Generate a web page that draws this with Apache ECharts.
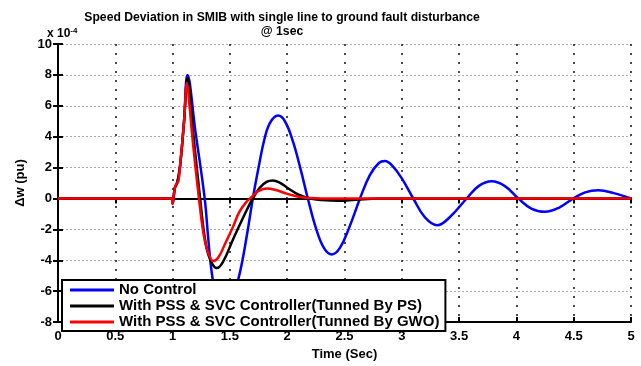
<!DOCTYPE html>
<html>
<head>
<meta charset="utf-8">
<script src="https://cdn.jsdelivr.net/npm/echarts@6/dist/echarts.min.js"></script>
<style>
  html, body { margin: 0; padding: 0; background: #fff; }
  #main { width: 641px; height: 366px; }
</style>
</head>
<body>
<div id="main"></div>
<script>
// values in units of 1e-4 pu
var seriesNames = ['No Control', 'With PSS & SVC Controller(Tunned By PS)', 'With PSS & SVC Controller(Tunned By GWO)'];
var xTicks = [0, 0.5, 1, 1.5, 2, 2.5, 3, 3.5, 4, 4.5, 5];
var yTicks = [-8, -6, -4, -2, 0, 2, 4, 6, 8, 10];

var tNoCtrl = [0, 0.99, 1.0, 1.02, 1.04, 1.065, 1.1, 1.13, 1.2, 1.28, 1.31, 1.34, 1.38, 1.43, 1.48, 1.53, 1.59, 1.65, 1.7,
  1.75, 1.8, 1.85, 1.92, 1.98, 2.05, 2.12, 2.18, 2.25, 2.32, 2.39, 2.46, 2.54, 2.635, 2.72, 2.8, 2.853, 2.92, 3.0, 3.1,
  3.2, 3.31, 3.42, 3.566, 3.67, 3.784, 3.9, 4.017, 4.13, 4.25, 4.37, 4.497, 4.6, 4.715, 4.85, 5.0];
var vNoCtrl = [0, 0, -0.3, 0.7, 1.0, 2.1, 5.0, 8.0, 4.3, 0, -2.5, -4.7, -6.3, -7.0, -7.0, -6.3, -4.7, -2.3, 0,
  2.0, 3.8, 4.9, 5.37, 5.0, 3.7, 1.8, 0, -1.9, -3.2, -3.62, -3.2, -1.9, 0, 1.5, 2.3, 2.42, 2.1, 1.3, 0,
  -1.2, -1.73, -1.2, 0, 0.8, 1.11, 0.8, 0, -0.65, -0.86, -0.6, 0, 0.4, 0.53, 0.35, 0];

var tPS = [0, 0.99, 1.0, 1.02, 1.04, 1.065, 1.1, 1.13, 1.18, 1.24, 1.28, 1.32, 1.385, 1.44, 1.53, 1.646, 1.7, 1.76,
  1.82, 1.873, 1.93, 2.0, 2.1, 2.2, 2.3, 2.45, 2.6, 2.8, 5.0];
var vPS = [0, 0, -0.3, 0.7, 1.0, 2.1, 5.0, 7.8, 4.2, 0, -2.5, -3.8, -4.5, -4.1, -2.6, -0.76, 0, 0.7,
  1.08, 1.17, 1.05, 0.7, 0.25, 0, -0.1, -0.15, -0.08, 0, 0];

var tGWO = [0, 0.99, 1.0, 1.01, 1.02, 1.035, 1.05, 1.065, 1.1, 1.125, 1.14, 1.18, 1.23, 1.27, 1.31, 1.355, 1.4, 1.46,
  1.53, 1.58, 1.64, 1.69, 1.74, 1.82, 1.9, 2.0, 2.1, 2.2, 2.3, 5.0];
var vGWO = [0, 0, -0.35, 0.2, 0.7, 1.0, 1.1, 2.1, 5.0, 7.5, 6.6, 3.4, 0, -2.3, -3.5, -4.05, -3.8, -2.9,
  -1.78, -0.9, -0.25, 0.1, 0.45, 0.65, 0.55, 0.3, 0.12, 0.03, 0, 0];

function zip(t, v) {
  var out = [];
  for (var i = 0; i < t.length; i++) out.push([t[i], v[i]]);
  return out;
}

var myChart = echarts.init(document.getElementById('main'));
var lblFont = { color: '#000', fontWeight: 'bold', fontSize: 13, fontFamily: 'Liberation Sans' };
var titleFont = 'bold 12.2px "Liberation Sans"';

var option = {
  animation: false,
  backgroundColor: '#fff',
  grid: { left: 58, right: 10, top: 44, bottom: 33, show: false },
  graphic: [
    { type: 'text', x: 282, y: 18, style: { text: 'Speed Deviation in SMIB with single line to ground fault disturbance', align: 'center', verticalAlign: 'middle', fill: '#000', font: titleFont } },
    { type: 'text', x: 282, y: 32, style: { text: '@ 1sec', align: 'center', verticalAlign: 'middle', fill: '#000', font: titleFont } },
    { type: 'text', x: 47, y: 27, style: { text: '{a|x 10}{b|-4}', rich: { a: { fontSize: 12, fontWeight: 'bold', fontFamily: 'Liberation Sans', fill: '#000' }, b: { fontSize: 8, fontWeight: 'bold', fontFamily: 'Liberation Sans', fill: '#000', verticalAlign: 'top', padding: [0, 0, 6, 0] } } } }
  ],
  legend: {
    data: seriesNames,
    orient: 'vertical',
    left: 62, top: 280,
    icon: 'rect',
    itemWidth: 44, itemHeight: 3, itemGap: 0,
    padding: [2, 6, 1, 8],
    backgroundColor: '#fff',
    borderColor: '#000', borderWidth: 2,
    textStyle: { color: '#000', fontWeight: 'bold', fontSize: 15, lineHeight: 16, fontFamily: 'Liberation Sans' }
  },
  xAxis: [{
    type: 'value', min: 0, max: 5, interval: 0.5,
    name: 'Time (Sec)', nameLocation: 'middle', nameGap: 22,
    nameTextStyle: lblFont,
    axisLine: { show: true, onZero: false, lineStyle: { color: '#000', width: 2 } },
    axisTick: { show: true, inside: true, length: 5, lineStyle: { color: '#000', width: 2 } },
    axisLabel: lblFont,
    splitLine: { show: true, lineStyle: { color: '#111', width: 1.5, type: [2, 7] } }
  }, {
    type: 'value', min: 0, max: 5, interval: 0.5, position: 'top',
    axisLine: { show: true, lineStyle: { color: '#000', width: 2 } },
    axisTick: { show: true, inside: true, length: 5, lineStyle: { color: '#000', width: 2 } },
    axisLabel: { show: false }, splitLine: { show: false }
  }],
  yAxis: [{
    type: 'value', min: -8, max: 10, interval: 2,
    name: 'Δw (pu)', nameLocation: 'middle', nameGap: 28, nameRotate: 90,
    nameTextStyle: lblFont,
    axisLine: { show: true, onZero: false, lineStyle: { color: '#000', width: 2 } },
    axisTick: { show: true, inside: true, length: 5, lineStyle: { color: '#000', width: 2 } },
    axisLabel: Object.assign({ margin: 6 }, lblFont),
    splitLine: { show: true, lineStyle: { color: '#aaa', width: 1, type: [2, 2] } }
  }, {
    type: 'value', min: -8, max: 10, interval: 2, position: 'right',
    axisLine: { show: true, lineStyle: { color: '#000', width: 2 } },
    axisTick: { show: true, inside: true, length: 5, lineStyle: { color: '#000', width: 2 } },
    axisLabel: { show: false }, splitLine: { show: false }
  }],
  series: [
    { name: seriesNames[0], type: 'line', data: zip(tNoCtrl, vNoCtrl), symbol: 'none', smooth: 0.4, z: 2,
      lineStyle: { color: '#0000ff', width: 2.5 }, itemStyle: { color: '#0000ff' } },
    { name: seriesNames[1], type: 'line', data: zip(tPS, vPS), symbol: 'none', smooth: 0.4, z: 3,
      lineStyle: { color: '#000', width: 2.5 }, itemStyle: { color: '#000' } },
    { name: seriesNames[2], type: 'line', data: zip(tGWO, vGWO), symbol: 'none', smooth: 0.4, z: 4,
      lineStyle: { color: '#ff0000', width: 2.5 }, itemStyle: { color: '#ff0000' } }
  ]
};
myChart.setOption(option);
</script>
</body>
</html>
